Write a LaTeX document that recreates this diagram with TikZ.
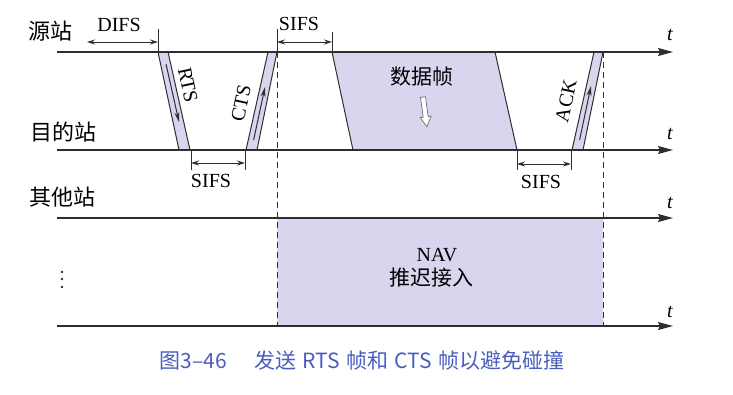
\documentclass[tikz,border=0pt]{standalone}
\usepackage{fontspec}
\setmainfont{Liberation Serif}
\newfontfamily\cjk{Noto Sans CJK SC}
\usetikzlibrary{arrows.meta}
\definecolor{framefill}{HTML}{D8D5EF}
\definecolor{ink}{HTML}{2E2E2E}
\definecolor{capblue}{HTML}{4A5DBF}
\tikzset{
  axis/.style={ink, line width=1.3pt, -{Stealth[length=15pt,width=8pt,inset=2pt]}},
  edgeline/.style={ink, line width=1pt},
  band/.style={fill=framefill},
  tickline/.style={ink, line width=1pt},
  span/.style={ink, line width=1pt, {Stealth[length=8pt,width=5pt]}-{Stealth[length=8pt,width=5pt]}},
  guide/.style={ink, line width=1pt, dash pattern=on 6pt off 4pt},
  flow/.style={ink, line width=1pt, -{Stealth[length=10pt,width=5pt]}},
  lbl/.style={font=\fontsize{20}{22}\selectfont, inner sep=0pt},
  cjklbl/.style={font=\cjk\fontsize{21}{23}\selectfont, inner sep=0pt},
  stationlbl/.style={font=\cjk\fontsize{22}{24}\selectfont, inner sep=0pt},
  tlbl/.style={font=\itshape\fontsize{20}{22}\selectfont, inner sep=0pt},
}
\begin{document}
\begin{tikzpicture}[x=1pt,y=-1pt]
\useasboundingbox (0,0) rectangle (733,394);

% time axes: start and end points
\coordinate (s0) at (57,52);   \coordinate (s1) at (673,52);
\coordinate (d0) at (57,150);  \coordinate (d1) at (673,150);
\coordinate (o0) at (57,218);  \coordinate (o1) at (673,218);
\coordinate (b0) at (57,326);  \coordinate (b1) at (673,326);

% frames in flight
\fill[band] (158,52) -- (168,52) -- (190,150) -- (179,150) -- cycle;   % RTS
\fill[band] (246,150) -- (257,150) -- (277,52) -- (268,52) -- cycle;   % CTS
\fill[band] (332,52) -- (495,52) -- (517,150) -- (353,150) -- cycle;   % data
\fill[band] (572,150) -- (583,150) -- (603,52) -- (594,52) -- cycle;   % ACK
\fill[band] (277,218) rectangle (603,326);                             % NAV

% slanted frame edges
\draw[edgeline] (158,52) -- (179,150);
\draw[edgeline] (168,52) -- (190,150);
\draw[edgeline] (246,150) -- (268,52);
\draw[edgeline] (257,150) -- (277,52);
\draw[edgeline] (332,52) -- (353,150);
\draw[edgeline] (495,52) -- (517,150);
\draw[edgeline] (572,150) -- (594,52);
\draw[edgeline] (583,150) -- (603,52);

% NAV boundaries
\coordinate (g1a) at (277,52);  \coordinate (g1b) at (277,326);
\coordinate (g2a) at (603,52);  \coordinate (g2b) at (603,326);
\draw[guide] (g1a) -- (g1b);
\draw[guide] (g2a) -- (g2b);

% axes
\draw[axis] (s0) -- (s1);
\draw[axis] (d0) -- (d1);
\draw[axis] (o0) -- (o1);
\draw[axis] (b0) -- (b1);

% interframe spaces
\draw[tickline] (158,29) -- (158,52);
\draw[span] (87,42) -- (158,42);
\draw[tickline] (277,29) -- (277,52);
\draw[tickline] (332,32) -- (332,52);
\draw[span] (277,42) -- (332,42);
\draw[tickline] (191,150) -- (191,170);
\draw[tickline] (245,150) -- (245,170);
\draw[span] (191,163) -- (245,163);
\draw[tickline] (517,150) -- (517,170);
\draw[tickline] (571,150) -- (571,170);
\draw[span] (517,164) -- (571,164);

% propagation direction inside the short frames
\draw[flow] (166,64) -- (179,122);
\draw[flow] (253.6,140) -- (265,87);
\draw[flow] (579.6,140) -- (591,86);

% hollow arrow under the data frame
\draw[ink!70, line width=0.7pt, fill=white]
  (425.5,96.7) -- (428.1,116.5) -- (431.1,116.1) -- (427.0,126.7)
  -- (420.2,117.6) -- (423.2,117.2) -- (420.5,97.3) -- cycle;

% station names
\node[stationlbl] (src) at (50,31) {源站};
\node[stationlbl] (dst) at (63,132) {目的站};
\node[stationlbl] (oth) at (62,197) {其他站};
\fill[ink] (62,272) circle (1.4);
\fill[ink] (62,279) circle (1.4);
\fill[ink] (62,287) circle (1.4);

% time labels
\node[tlbl] (t1) at (670,35) {t};
\node[tlbl] (t2) at (670,134) {t};
\node[tlbl] (t3) at (670,203) {t};
\node[tlbl] (t4) at (670,312) {t};

% interval labels
\node[lbl] (difs) at (119,25) {DIFS};
\node[lbl] (sifs1) at (299,24) {SIFS};
\node[lbl] (sifs2) at (211,181) {SIFS};
\node[lbl] (sifs3) at (541,182) {SIFS};

% frame labels
\node[lbl, rotate=-78] (rts) at (188,85) {RTS};
\node[lbl, rotate=78] (cts) at (241,103) {CTS};
\node[lbl, rotate=78] (ack) at (566,101) {ACK};
\node[cjklbl] (data) at (422,77) {数据帧};
\node[lbl] (nav) at (437,255) {NAV};
\node[cjklbl] (defer) at (431,278) {推迟接入};

% caption
\node[font=\cjk\fontsize{21}{24}\selectfont, text=capblue, inner sep=0pt] (cap)
  at (362,361) {图3–46\hspace{1.3em}发送\hspace{0.3em}RTS\hspace{0.3em}帧和\hspace{0.3em}CTS\hspace{0.3em}帧以避免碰撞};
\end{tikzpicture}
\end{document}
